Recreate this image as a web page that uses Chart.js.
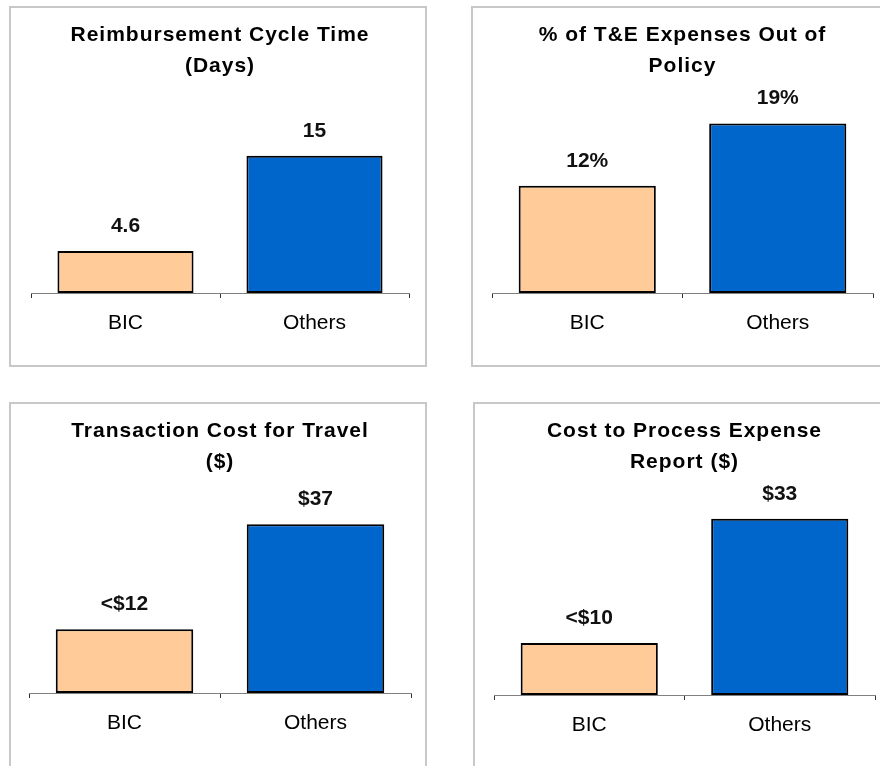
<!DOCTYPE html>
<html>
<head>
<meta charset="utf-8">
<script src="https://cdn.jsdelivr.net/npm/chart.js@4.4.0/dist/chart.umd.min.js"></script>
<style>
    body{margin:0;background:#fff;width:880px;height:766px;overflow:hidden;position:relative;}
    .Panel{position:absolute;border:2px solid #c8c8c8;box-sizing:border-box;}
    .Panel canvas{position:absolute;left:0;top:0;}
</style>
</head>
<body id="body">
<div id="app"></div>
<script>
// data
const categories = ['BIC', 'Others'];

const cycleDays = [4.6, 15];
const outOfPolicyPct = [12, 19];
const travelCost = [14, 37];
const reportCost = [9.75, 33];

const cycleLabels = ['4.6', '15'];
const policyLabels = ['12%', '19%'];
const travelLabels = ['<$12', '$37'];
const reportLabels = ['<$10', '$33'];

const titles = [
    ['Reimbursement Cycle Time', '(Days)'],
    ['% of T&E Expenses Out of', 'Policy'],
    ['Transaction Cost for Travel', '($)'],
    ['Cost to Process Expense', 'Report ($)']
];
const yMax = [20, 20.5, 41, 35.4];

const barColors = ['#FFCC99', '#0066CC'];
const FONT = '"Liberation Sans", Arial, sans-serif';

const panels = [
    {left:9,   top:6,   w:418, h:361, cw:414, ch:357, padL:20, padR:16, padB:10, values:cycleDays,      labels:cycleLabels},
    {left:471, top:6,   w:420, h:361, cw:414, ch:357, padL:19, padR:14, padB:10, values:outOfPolicyPct, labels:policyLabels},
    {left:9,   top:402, w:418, h:400, cw:414, ch:362, padL:18, padR:14, padB:11, values:travelCost,     labels:travelLabels},
    {left:473, top:402, w:420, h:400, cw:414, ch:362, padL:19, padR:14, padB:9,  values:reportCost,     labels:reportLabels}
];

// wide title tracking like the original, reset before bars / tick labels
const titleSpacing = {
    id: 'titleSpacing',
    beforeDraw(chart) { chart.ctx.letterSpacing = '1px'; },
    beforeDatasetsDraw(chart) { chart.ctx.letterSpacing = '0px'; }
};

const valueLabels = {
    id: 'valueLabels',
    afterDatasetsDraw(chart, args, opts) {
        const ctx = chart.ctx;
        const meta = chart.getDatasetMeta(0);
        ctx.save();
        ctx.font = 'bold 21px ' + FONT;
        ctx.fillStyle = '#111';
        ctx.textAlign = 'center';
        ctx.textBaseline = 'middle';
        meta.data.forEach((bar, i) => ctx.fillText(opts.labels[i], bar.x, bar.y - 25));
        ctx.restore();
    }
};

const app = document.getElementById('app');

panels.forEach((p, idx) => {
    const template = `
        <div class="Panel" style="left:${p.left}px;top:${p.top}px;width:${p.w}px;height:${p.h}px;">
            <canvas id="chart-${idx}" width="${p.cw}" height="${p.ch}"></canvas>
        </div>
    `;
    app.insertAdjacentHTML('beforeend', template);
});

panels.forEach((p, idx) => {
    new Chart(document.getElementById('chart-' + idx), {
        type: 'bar',
        data: {
            labels: categories,
            datasets: [{
                data: p.values,
                backgroundColor: barColors,
                borderColor: '#000',
                borderWidth: 2,
                borderSkipped: false,
                barPercentage: 0.72,
                categoryPercentage: 1
            }]
        },
        plugins: [titleSpacing, valueLabels],
        options: {
            responsive: false,
            animation: false,
            devicePixelRatio: 1,
            layout: { padding: { left: p.padL, right: p.padR, top: 0, bottom: p.padB } },
            plugins: {
                legend: { display: false },
                tooltip: { enabled: false },
                title: {
                    display: true,
                    text: titles[idx],
                    color: '#000',
                    font: { family: FONT, size: 21, weight: 'bold', lineHeight: 1.476 },
                    padding: { top: 11.5, bottom: 28.5 }
                },
                valueLabels: { labels: p.labels }
            },
            scales: {
                x: {
                    afterFit(scale) { scale.height = 62; },
                    grid: { offset: true, drawOnChartArea: false, drawTicks: true, tickLength: 5, color: '#333', lineWidth: 1 },
                    border: { display: true, color: '#808080', width: 1 },
                    ticks: { z: 1, padding: 13, color: '#000', font: { family: FONT, size: 21 } }
                },
                y: { display: false, min: 0, max: yMax[idx] }
            }
        }
    });
});
</script>
</body>
</html>
